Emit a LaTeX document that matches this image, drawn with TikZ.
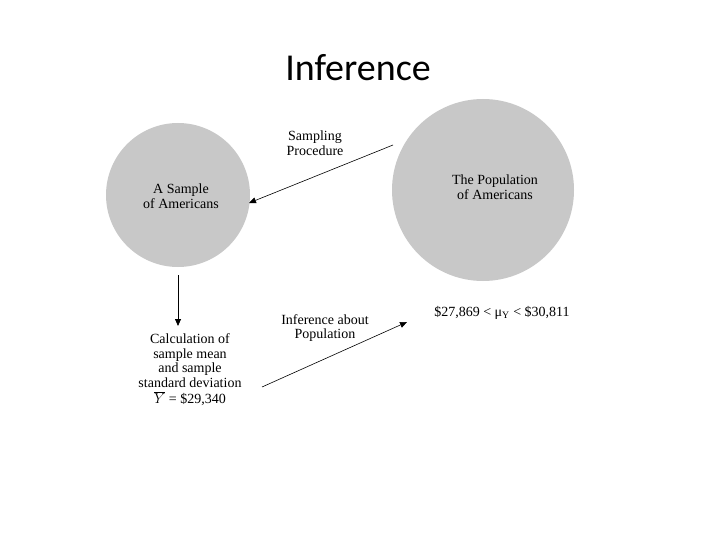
\documentclass[tikz,border=0pt]{standalone}
\usepackage{fontspec}
\setmainfont{Liberation Serif}
\newfontfamily\titlefont{Carlito}
\usetikzlibrary{arrows.meta}
\definecolor{popgray}{RGB}{200,200,200}
\tikzset{
  blob/.style={circle, fill=popgray, draw=none},
  lbl/.style={align=center, font=\fontsize{14}{14.5}\selectfont, inner sep=0pt},
  link/.style={-{Triangle[length=7pt,width=6pt]}, thick}
}
\begin{document}
\begin{tikzpicture}[x=1pt, y=-1pt]
\useasboundingbox (0,0) rectangle (720,540);

\node[font=\titlefont\fontsize{38}{40}\selectfont] (title) at (358,68) {Inference};

% circles
\node[blob, minimum size=144pt] (smp) at (178,195) {};
\node[blob, minimum size=182pt] (pop) at (483,190) {};
\node[lbl] (smptxt) at (181,196) {A Sample\\of Americans};
\node[lbl] (poptxt) at (495,187) {The Population\\ of Americans};

% labels
\node[lbl] (samp) at (315,143) {Sampling\\Procedure};
\node[lbl] (calc) at (190,370) {Calculation of\\sample mean\\and sample\\standard deviation\\[2pt]$\overline{Y}$ = \$29,340};
\node[lbl] (infer) at (325,328) {Inference about\\Population};
\node[lbl] (ci) at (502,313) {\$27,869 < μ\textsubscript{Y} < \$30,811};

% arrows
\coordinate (s0) at (393,145);
\coordinate (s1) at (249,203);
\coordinate (d0) at (178,275);
\coordinate (d1) at (178,326);
\coordinate (i0) at (262,387);
\coordinate (i1) at (407,322);
\draw[link, semithick] (s0) -- (s1);
\draw[link] (d0) -- (d1);
\draw[link, semithick] (i0) -- (i1);
\end{tikzpicture}
\end{document}
